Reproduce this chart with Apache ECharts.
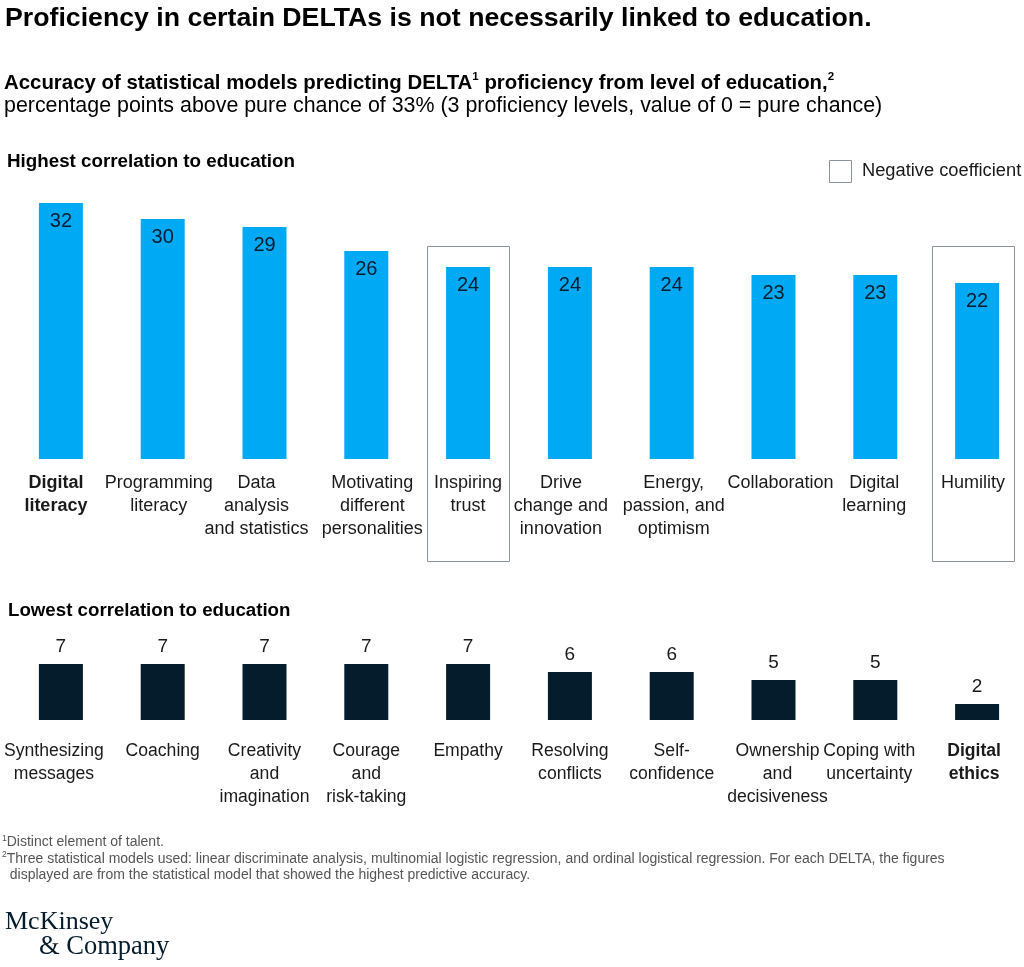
<!DOCTYPE html>
<html>
<head>
<meta charset="utf-8">
<title>DELTA proficiency and education</title>
<script src="https://cdn.jsdelivr.net/npm/echarts@6/dist/echarts.min.js"></script>
<style>
  html, body { margin: 0; padding: 0; background: #fff; overflow: hidden; }
  #main { width: 1040px; height: 967px; }
</style>
</head>
<body>
<div id="main"></div>
<script>
// data
var topCategories = ['Digital\nliteracy', 'Programming\nliteracy', 'Data\nanalysis\nand statistics',
  'Motivating\ndifferent\npersonalities', 'Inspiring\ntrust', 'Drive\nchange and\ninnovation',
  'Energy,\npassion, and\noptimism', 'Collaboration', 'Digital\nlearning', 'Humility'];
var topValues = [32, 30, 29, 26, 24, 24, 24, 23, 23, 22];
var negativeIdx = [4, 9];

var lowCategories = ['Synthesizing\nmessages', 'Coaching', 'Creativity\nand\nimagination',
  'Courage\nand\nrisk-taking', 'Empathy', 'Resolving\nconflicts', 'Self-\nconfidence',
  'Ownership\nand\ndecisiveness', 'Coping with\nuncertainty', 'Digital\nethics'];
var lowValues = [7, 7, 7, 7, 7, 6, 6, 5, 5, 2];

var boldLabels = ['Digital\nliteracy', 'Digital\nethics'];

// small sideways shifts of the category labels (px), as in the original layout
var topNudge = [-5, -4, -8, 6, 0, -9, 2, 7, -1, -4];
var lowNudge = [-7, 0, 0, 0, 0, 0, 0, 4, -6, -3];

var FONT = '"Liberation Sans", Arial, sans-serif';
var INK = '#1a1a1a';
var BLUE = '#00a9f4';
var NAVY = '#051c2c';
var BOX = '#8a949e';

var myChart = echarts.init(document.getElementById('main'));

function catLabel(v) {
  return boldLabels.indexOf(v) >= 0 ? '{b|' + v + '}' : v;
}

function nudged(names, nudge) {
  return names.map(function (n, i) {
    var d = nudge[i] || 0;
    return { value: n, textStyle: { padding: d >= 0 ? [0, 0, 0, 2 * d] : [0, -2 * d, 0, 0] } };
  });
}

function axisLabelStyle(size, margin) {
  return {
    interval: 0,
    margin: margin,
    fontFamily: FONT,
    fontSize: size,
    lineHeight: 23,
    color: INK,
    verticalAlign: 'top',
    formatter: catLabel,
    rich: { b: { fontFamily: FONT, fontSize: size, lineHeight: 23, fontWeight: 'bold', color: INK } }
  };
}

var option = {
  animation: false,
  grid: [
    { left: 10, width: 1018, top: 203, height: 256 },
    { left: 10, width: 1018, top: 664, height: 56 }
  ],
  xAxis: [
    {
      type: 'category', gridIndex: 0, data: nudged(topCategories, topNudge),
      axisLine: { show: false }, axisTick: { show: false },
      axisLabel: axisLabelStyle(18, 13)
    },
    {
      type: 'category', gridIndex: 1, data: nudged(lowCategories, lowNudge),
      axisLine: { show: false }, axisTick: { show: false },
      axisLabel: axisLabelStyle(17.6, 20)
    }
  ],
  yAxis: [
    { type: 'value', gridIndex: 0, min: 0, max: 32, show: false },
    { type: 'value', gridIndex: 1, min: 0, max: 7, show: false }
  ],
  series: [
    {
      type: 'bar', xAxisIndex: 0, yAxisIndex: 0, data: topValues,
      barWidth: 44,
      itemStyle: { color: BLUE },
      label: {
        show: true, position: 'insideTop', distance: 8,
        fontFamily: FONT, fontSize: 20, color: NAVY
      }
    },
    {
      type: 'bar', xAxisIndex: 1, yAxisIndex: 1, data: lowValues,
      barWidth: 44,
      itemStyle: { color: NAVY },
      label: {
        show: true, position: 'top', distance: 8,
        fontFamily: FONT, fontSize: 19, color: INK
      }
    }
  ]
};
myChart.setOption(option);

// texts, legend and the boxes round negative-coefficient bars
var graphics = [
  { type: 'text', left: 5, top: 5, style: { text: 'Proficiency in certain DELTAs is not necessarily linked to education.',
      font: 'bold 26.7px ' + FONT, fill: '#000' } },
  { type: 'text', left: 4, top: 71, style: {
      text: 'Accuracy of statistical models predicting DELTA{s|1} proficiency from level of education,{s|2}',
      font: 'bold 20.4px ' + FONT, fill: '#000',
      rich: { s: { fontSize: 11.5, fontWeight: 'bold', fontFamily: FONT, verticalAlign: 'top', lineHeight: 25 } } } },
  { type: 'text', left: 4, top: 96, style: {
      text: 'percentage points above pure chance of 33% (3 proficiency levels, value of 0 = pure chance)',
      font: '21.4px ' + FONT, fill: '#000' } },
  { type: 'text', left: 7, top: 152, style: { text: 'Highest correlation to education',
      font: 'bold 18.8px ' + FONT, fill: '#000' } },
  { type: 'text', left: 8, top: 601, style: { text: 'Lowest correlation to education',
      font: 'bold 18.7px ' + FONT, fill: '#000' } },
  { type: 'rect', shape: { x: 829.5, y: 160.5, width: 22, height: 22 },
    style: { fill: '#fff', stroke: BOX, lineWidth: 1 } },
  { type: 'text', left: 862, top: 162, style: { text: 'Negative coefficient', font: '18.3px ' + FONT, fill: INK } },
  { type: 'text', left: 2, top: 834, style: {
      text: '{s|1}Distinct element of talent.\n{s|2}Three statistical models used: linear discriminate analysis, multinomial logistic regression, and ordinal logistical regression. For each DELTA, the figures\n  displayed are from the statistical model that showed the highest predictive accuracy.',
      font: '14px ' + FONT, fill: '#555', lineHeight: 16.5,
      rich: { s: { fontSize: 8.5, fontFamily: FONT, fill: '#555', verticalAlign: 'top', lineHeight: 16.5 } } } },
  { type: 'text', left: 5, top: 909, style: { text: 'McKinsey', font: '26px "Liberation Serif", serif', fill: NAVY } },
  { type: 'text', left: 39, top: 934, style: { text: '& Company', font: '26.5px "Liberation Serif", serif', fill: NAVY } }
];

negativeIdx.forEach(function (i) {
  var p = myChart.convertToPixel({ gridIndex: 0 }, [i, 0]);
  var cx = p[0] + topNudge[i];
  graphics.push({
    type: 'rect',
    shape: { x: Math.round(cx - 41) + 0.5, y: 246.5, width: 82, height: 315 },
    style: { fill: 'none', stroke: BOX, lineWidth: 1 },
    z: -1
  });
});

myChart.setOption({ graphic: graphics });
</script>
</body>
</html>
